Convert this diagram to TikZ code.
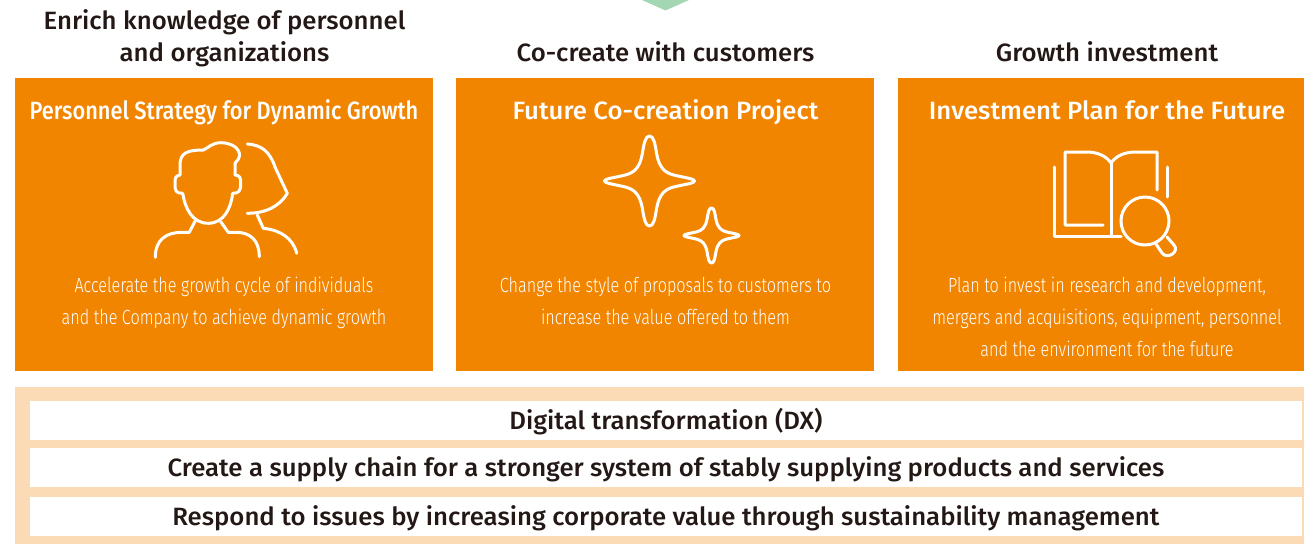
\documentclass[tikz,border=0pt]{standalone}
\usepackage{fontspec}
\setmainfont{Fira Sans}
\newfontfamily\headf[FakeStretch=1.03]{Fira Sans Medium}
\newfontfamily\headn[FakeStretch=0.872]{Fira Sans Medium}
\newfontfamily\bodyf[FakeStretch=0.79]{Fira Sans Light}
\definecolor{orange1}{HTML}{F28500}
\definecolor{peach}{HTML}{FBDAB6}
\definecolor{mint}{HTML}{A3D7B4}
\definecolor{ink}{HTML}{231815}
\tikzset{
 panel/.style={fill=orange1,draw=none,minimum height=293,anchor=north west,inner sep=0},
 whitebar/.style={fill=white,draw=none,anchor=north west,inner sep=0,text=ink,font=\headf\fontsize{25}{25}\selectfont,minimum width=1271.5,minimum height=39,text height=18.5,text depth=0},
 band/.style={fill=peach,draw=none,anchor=north west,inner sep=0},
 head/.style={text=ink,font=\headf\fontsize{25}{32}\selectfont,align=center,inner sep=0},
 ptitle/.style={text=white,font=\headf\fontsize{25}{25}\selectfont,inner sep=0,text height=17,text depth=0},
 pbody/.style={text=white,font=\bodyf\fontsize{20.5}{32}\selectfont,align=center,inner sep=0},
 icon/.style={draw=white,line width=3,line cap=round,line join=round},
 tri/.style={fill=mint,draw=none}
}
\newcommand{\sparkle}[4]{% cx cy rx ry
 \draw[icon,shift={(#1,#2)},x=#3,y=#4]
 (0,-1) .. controls (0.09,-1) and (0.12,-0.85) .. (0.16,-0.6)
 .. controls (0.22,-0.28) and (0.35,-0.18) .. (0.55,-0.13)
 .. controls (0.8,-0.07) and (1,-0.05) .. (1,0)
 .. controls (1,0.05) and (0.8,0.07) .. (0.55,0.13)
 .. controls (0.35,0.18) and (0.22,0.28) .. (0.16,0.6)
 .. controls (0.12,0.85) and (0.09,1) .. (0,1)
 .. controls (-0.09,1) and (-0.12,0.85) .. (-0.16,0.6)
 .. controls (-0.22,0.28) and (-0.35,0.18) .. (-0.55,0.13)
 .. controls (-0.8,0.07) and (-1,0.05) .. (-1,0)
 .. controls (-1,-0.05) and (-0.8,-0.07) .. (-0.55,-0.13)
 .. controls (-0.35,-0.18) and (-0.22,-0.28) .. (-0.16,-0.6)
 .. controls (-0.12,-0.85) and (-0.09,-1) .. (0,-1) -- cycle;}
\begin{document}
\begin{tikzpicture}[x=1pt,y=-1pt]
\useasboundingbox (0,0) rectangle (1304,544);
\fill[white] (0,0) rectangle (1304,544);
% arrow tip at the top
\fill[tri] (642,0) -- (665.5,10.5) -- (689,0) -- cycle;
% headings
\node[head] (h1) at (224.5,38) {Enrich knowledge of personnel\\and organizations};
\node[head,text height=17,text depth=0] (h2) at (665.5,53) {Co-create with customers};
\node[head,text height=17,text depth=0] (h3) at (1107,53) {Growth investment};
% panels
\node[panel,minimum width=418] (p1) at (15,78) {};
\node[panel,minimum width=418] (p2) at (456,78) {};
\node[panel,minimum width=406] (p3) at (898,78) {};
\node[ptitle,font=\headn\fontsize{25}{25}\selectfont] (t1) at (224,111) {Personnel Strategy for Dynamic Growth};
\node[ptitle] (t2) at (665.5,111) {Future Co-creation Project};
\node[ptitle] (t3) at (1107,111) {Investment Plan for the Future};
\node[pbody] (b1) at (224,303) {Accelerate the growth cycle of individuals\\and the Company to achieve dynamic growth};
\node[pbody] (b2) at (665.5,301) {Change the style of proposals to customers to\\increase the value offered to them};
\node[pbody] (b3) at (1107,317) {Plan to invest in research and development,\\mergers and acquisitions, equipment, personnel\\and the environment for the future};
% people icon
\draw[icon] (182.7,193.3) .. controls (185,208) and (192,223.3) .. (208.3,223.3)
 .. controls (224,223.3) and (231,208) .. (232.7,193.3)
 .. controls (239,193.3) and (240.5,191) .. (240.7,184)
 .. controls (241,177) and (239.5,175.5) .. (235,175)
 -- (235,163.3) -- (236,162)
 .. controls (244,155) and (238,143) .. (221,142.7)
 .. controls (212,142.7) and (208,148) .. (203.3,150)
 .. controls (187,150) and (180,153) .. (180,165)
 -- (180,175)
 .. controls (175,176) and (175,178) .. (175,184)
 .. controls (175,191) and (176,193.3) .. (182.7,193.3);
\draw[icon] (195.7,220) -- (189.3,232.3) -- (182,232.3) .. controls (166,232.3) and (155.3,240) .. (155.3,257.3);
\draw[icon] (220.7,221.7) -- (228.3,232.3) -- (236,232.3) .. controls (250,232.3) and (259.3,240) .. (259.3,256.7);
\draw[icon] (247.3,144) .. controls (262,145) and (270,152) .. (275,167) -- (287.3,193.3)
 .. controls (280,206) and (266,213.3) .. (247.3,213.3);
\draw[icon] (257.3,215) -- (263.3,228.3) .. controls (280,230) and (293,238) .. (296.7,253.3);
% sparkles
\sparkle{649.5}{181}{45}{45}
\sparkle{711.5}{235.5}{27.5}{27.5}
% book icon
\draw[icon] (1157,190) -- (1157,152) -- (1136,152)
 .. controls (1124,152) and (1116,156) .. (1111,163)
 .. controls (1106,156) and (1098,152) .. (1086,152) -- (1065,152) -- (1065,225) -- (1103,225);
\draw[icon] (1054,167) -- (1054,236) -- (1121,236);
\draw[icon] (1111,163) -- (1111,236);
\draw[icon] (1167,167) -- (1167,197);
\draw[icon] (1145,221) circle[radius=24];
\draw[icon] (1156,244) -- (1162,253) .. controls (1167,260) and (1180,252) .. (1174,245) -- (1167,237);
% bottom band
\node[band,minimum width=1289,minimum height=157] (base) at (15,387) {};
\node[whitebar] (w1) at (30,401) {Digital transformation (DX)};
\node[whitebar] (w2) at (30,448) {Create a supply chain for a stronger system of stably supplying products and services};
\node[whitebar] (w3) at (30,497) {Respond to issues by increasing corporate value through sustainability management};
\end{tikzpicture}
\end{document}
